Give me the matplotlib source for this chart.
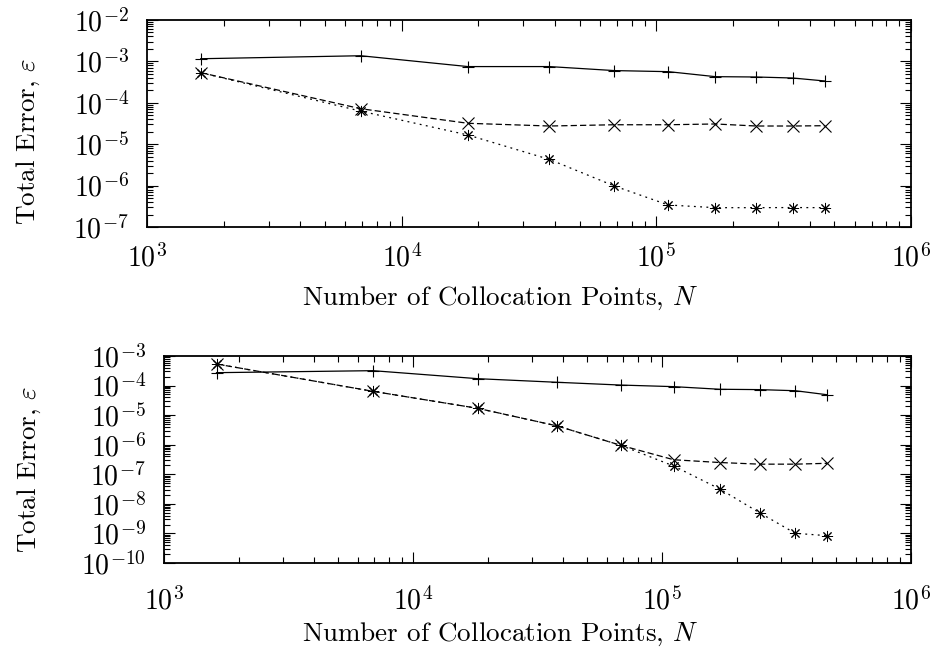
import matplotlib
matplotlib.use('Agg')
import matplotlib.pyplot as plt
import numpy as np
from matplotlib.ticker import LogLocator, FuncFormatter, NullFormatter

plt.rcParams['mathtext.fontset'] = 'cm'
plt.rcParams['font.family'] = 'serif'
plt.rcParams['font.serif'] = ['cmr10', 'DejaVu Serif']
plt.rcParams['axes.formatter.use_mathtext'] = True

# number of collocation points used in each run
n_points = [1625, 6900, 18200, 38000, 68400, 111500, 170500, 246500, 343000, 460000]

# upper panel errors
top_plus = [1.16e-3, 1.37e-3, 7.5e-4, 7.5e-4, 6.0e-4, 5.65e-4, 4.28e-4, 4.2e-4, 3.97e-4, 3.36e-4]
top_cross = [5.35e-4, 7.2e-5, 3.2e-5, 2.75e-5, 2.95e-5, 2.95e-5, 3.08e-5, 2.75e-5, 2.75e-5, 2.8e-5]
top_star = [5.35e-4, 6.3e-5, 1.67e-5, 4.3e-6, 9.8e-7, 3.4e-7, 2.93e-7, 2.93e-7, 2.95e-7, 2.93e-7]

# lower panel errors
bot_plus = [2.73e-4, 3.19e-4, 1.71e-4, 1.29e-4, 1.04e-4, 9.2e-5, 7.5e-5, 7.3e-5, 6.7e-5, 4.9e-5]
bot_cross = [5.36e-4, 6.4e-5, 1.7e-5, 4.3e-6, 9.5e-7, 3.1e-7, 2.5e-7, 2.2e-7, 2.2e-7, 2.35e-7]
bot_star = [5.36e-4, 6.4e-5, 1.7e-5, 4.3e-6, 9.5e-7, 1.9e-7, 3.2e-8, 5.0e-9, 1.01e-9, 8.4e-10]

xlabel = 'Number of Collocation Points, $N$'
ylabel = r'Total Error, $\varepsilon$'
FS = 19.5
TICK_FS = 20

W, H = 935, 654
fig = plt.figure(figsize=(W / 100, H / 100), dpi=100)


def px_axes(left, top, right, bottom):
    return fig.add_axes([left / W, 1 - bottom / H, (right - left) / W, (bottom - top) / H])


ax_top = px_axes(147, 20, 911, 227)
ax_bot = px_axes(164, 356, 911, 563)

asterisk = (8, 2, 0)
lw = 0.9


def draw(ax, plus, cross, star, ylim):
    ax.plot(n_points, plus, color='black', lw=lw, ls='-', marker='+', ms=9, mew=0.8)
    ax.plot(n_points, cross, color='black', lw=lw, ls=(0, (5, 2.5)), marker='x', ms=8, mew=0.8)
    ax.plot(n_points, star, color='black', lw=lw, ls=(0, (1.5, 3.5)), marker=asterisk, ms=8, mew=0.7)
    ax.set_xscale('log')
    ax.set_yscale('log')
    ax.set_xlim(1e3, 1e6)
    ax.set_ylim(*ylim)
    for axis in (ax.xaxis, ax.yaxis):
        axis.set_major_locator(LogLocator(base=10, numticks=20))
        axis.set_minor_locator(LogLocator(base=10, subs=np.arange(2, 10), numticks=100))
        axis.set_minor_formatter(NullFormatter())
        axis.set_major_formatter(FuncFormatter(lambda v, p: r'$10^{%d}$' % round(np.log10(v))))
    ax.tick_params(which='both', direction='in', top=True, right=True, labelsize=TICK_FS, width=0.8)
    ax.tick_params(which='major', length=8)
    ax.tick_params(which='minor', length=4)
    ax.tick_params(axis='y', pad=13)
    for sp in ax.spines.values():
        sp.set_linewidth(1.3)
    ax.set_xlabel(xlabel, fontsize=FS)
    ax.set_ylabel(ylabel, fontsize=FS)


draw(ax_top, top_plus, top_cross, top_star, (1e-7, 1e-2))
draw(ax_bot, bot_plus, bot_cross, bot_star, (1e-10, 1e-3))
ax_top.tick_params(axis='x', pad=12)
ax_bot.tick_params(axis='x', pad=17)

ax_top.xaxis.set_label_coords((500 - 147) / 764, -(285 - 227) / 207)
ax_top.yaxis.set_label_coords((42 - 147) / 764, (227 - 141) / 207)
ax_bot.xaxis.set_label_coords((500 - 164) / 747, -(621 - 563) / 207)
ax_bot.yaxis.set_label_coords((43 - 164) / 747, (563 - 469) / 207)

fig.savefig('out.png', dpi=100)
